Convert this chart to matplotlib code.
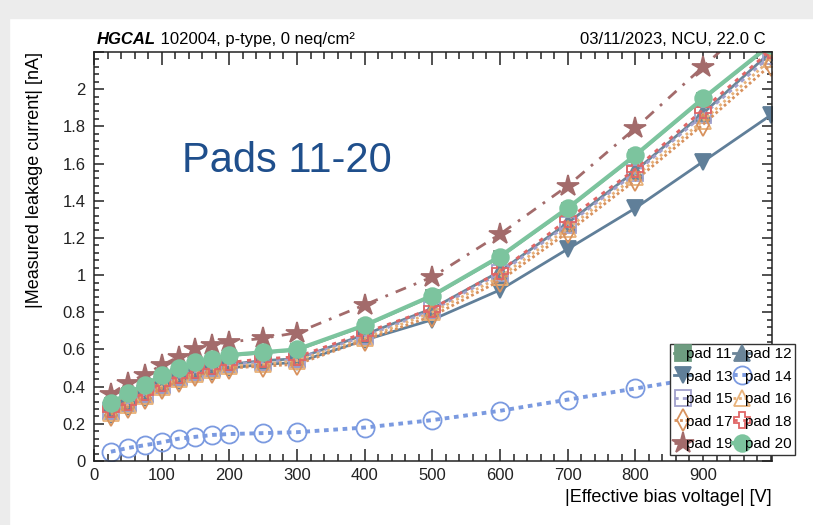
import matplotlib
matplotlib.use('Agg')
import matplotlib.pyplot as plt
from matplotlib.lines import Line2D
from matplotlib.patches import Rectangle
from matplotlib.ticker import MultipleLocator, FuncFormatter

plt.rcParams['font.family'] = ['Liberation Sans', 'DejaVu Sans']

# bias voltage points [V]
voltage = [25, 50, 75, 100, 125, 150, 175, 200, 250, 300, 400, 500, 600, 700, 800, 900, 1000]

# measured leakage current [nA]
pad11 = [0.308, 0.362, 0.408, 0.457, 0.497, 0.527, 0.547, 0.567, 0.582, 0.597, 0.727, 0.887, 1.097, 1.357, 1.642, 1.947, 2.237]
pad12 = [0.27, 0.31, 0.36, 0.41, 0.45, 0.48, 0.50, 0.52, 0.54, 0.55, 0.68, 0.82, 1.02, 1.28, 1.56, 1.87, 2.20]
pad13 = [0.25, 0.29, 0.34, 0.39, 0.43, 0.46, 0.48, 0.50, 0.52, 0.53, 0.65, 0.76, 0.92, 1.14, 1.36, 1.61, 1.86]
pad14 = [0.05, 0.07, 0.085, 0.10, 0.12, 0.13, 0.14, 0.145, 0.15, 0.155, 0.18, 0.22, 0.27, 0.33, 0.39, 0.45, 0.52]
pad15 = [0.27, 0.31, 0.36, 0.41, 0.45, 0.48, 0.50, 0.52, 0.53, 0.55, 0.67, 0.81, 1.01, 1.27, 1.55, 1.86, 2.18]
pad16 = [0.26, 0.30, 0.35, 0.40, 0.44, 0.47, 0.49, 0.51, 0.52, 0.54, 0.66, 0.80, 0.99, 1.25, 1.53, 1.83, 2.16]
pad17 = [0.25, 0.29, 0.34, 0.39, 0.43, 0.46, 0.48, 0.50, 0.51, 0.52, 0.65, 0.78, 0.97, 1.23, 1.51, 1.81, 2.13]
pad18 = [0.28, 0.32, 0.37, 0.42, 0.46, 0.49, 0.51, 0.53, 0.55, 0.56, 0.69, 0.82, 1.02, 1.30, 1.57, 1.89, 2.21]
pad19 = [0.36, 0.42, 0.465, 0.515, 0.56, 0.60, 0.625, 0.64, 0.66, 0.69, 0.84, 0.99, 1.22, 1.48, 1.79, 2.12, 2.45]
pad20 = [0.31, 0.365, 0.41, 0.46, 0.50, 0.53, 0.55, 0.57, 0.585, 0.60, 0.73, 0.89, 1.10, 1.36, 1.645, 1.95, 2.24]

labels = ['pad 11', 'pad 12', 'pad 13', 'pad 14', 'pad 15',
          'pad 16', 'pad 17', 'pad 18', 'pad 19', 'pad 20']
series = [pad11, pad12, pad13, pad14, pad15, pad16, pad17, pad18, pad19, pad20]

# (marker, colour, filled, linestyle, linewidth, markersize)
styles = [
    ('s', '#6e9c80', True, '-', 2.0, 11),
    ('^', '#6b8599', True, '-', 2.0, 11),
    ('v', '#607f99', True, '-', 2.0, 11),
    ('o', '#7b9ae0', False, (0, (1.2, 1.2)), 2.8, 13),
    ('s', '#a0a0cc', False, (0, (1.5, 1.5)), 2.0, 11),
    ('^', '#e8b27a', False, (0, (1, 1)), 2.0, 11),
    ('d', '#d8925e', False, (0, (1, 1)), 2.0, 11),
    ('P', '#e06666', False, (0, (1.5, 2)), 2.0, 12),
    ('*', '#a36b6b', True, (0, (4, 3, 1, 3)), 2.0, 16),
    ('o', '#7cc49e', True, '-', 3.0, 12),
]

fig = plt.figure(figsize=(8.13, 5.25), dpi=100)
fig.patch.set_facecolor('white')
# screenshot shadow along top and left edge
fig.patches.append(Rectangle((0, 1 - 18 / 525), 1, 18 / 525, transform=fig.transFigure,
                             color='#ececec', zorder=0))
fig.patches.append(Rectangle((0, 0), 9 / 813, 1, transform=fig.transFigure,
                             color='#ececec', zorder=0))

ax = fig.add_axes([94 / 813, 1 - 461 / 525, 678 / 813, 409 / 525])

handles = []
for vals, lab, st in zip(series, labels, styles):
    m, c, filled, ls, lw, ms = st
    kw = dict(marker=m, color=c, linestyle=ls, linewidth=lw, markersize=ms,
              markeredgecolor=c, markeredgewidth=1.3,
              markerfacecolor=c if filled else 'none')
    handles.append(Line2D([], [], label=lab, **kw))
    if lab == 'pad 11':
        # pad 11 sits right under pad 20, its squares stay hidden by the circles
        kw['markersize'] = 8
    ax.plot(voltage, vals, **kw)

ax.set_xlim(0, 1002)
ax.set_ylim(0, 2.2)

ax.xaxis.set_major_locator(MultipleLocator(100))
ax.xaxis.set_minor_locator(MultipleLocator(20))
ax.yaxis.set_major_locator(MultipleLocator(0.2))
ax.yaxis.set_minor_locator(MultipleLocator(0.04))
ax.xaxis.set_major_formatter(FuncFormatter(lambda v, p: '' if v > 950 else '%g' % v))
ax.yaxis.set_major_formatter(FuncFormatter(lambda v, p: '' if v > 2.1 else '%g' % round(v, 2)))

ax.tick_params(which='both', direction='in', top=True, right=True, width=1.1,
               labelsize=12, colors='#222222')
ax.tick_params(axis='x', which='major', length=9, pad=5)
ax.tick_params(axis='x', which='minor', length=5)
ax.tick_params(axis='y', which='major', length=7, pad=6)
ax.tick_params(axis='y', which='minor', length=3.5)
for sp in ax.spines.values():
    sp.set_linewidth(1.1)
    sp.set_color('#222222')

ax.set_xlabel('|Effective bias voltage| [V]', fontsize=13, loc='right', labelpad=4)
ax.set_ylabel('|Measured leakage current| [nA]', fontsize=13, loc='top', labelpad=14)

t1 = ax.text(0.004, 1.012, 'HGCAL', transform=ax.transAxes, fontsize=12,
             fontweight='bold', fontstyle='italic', va='bottom', ha='left')
ax.annotate(' 102004, p-type, 0 neq/cm\u00b2', xy=(1, 0), xycoords=t1,
            fontsize=12, va='bottom', ha='left')
ax.text(0.99, 1.012, '03/11/2023, NCU, 22.0 C', transform=ax.transAxes,
        fontsize=12, va='bottom', ha='right')

ax.text(0.13, 0.707, 'Pads 11-20', transform=ax.transAxes, fontsize=30,
        color='#1f4f8c', va='baseline', ha='left')

# ROOT fills rows first, matplotlib fills columns first
order = [0, 2, 4, 6, 8, 1, 3, 5, 7, 9]
leg = ax.legend([handles[i] for i in order], [labels[i] for i in order],
                ncol=2, loc='lower right', bbox_to_anchor=(1.034, 0.015),
                fontsize=11, frameon=True, fancybox=False,
                framealpha=1, edgecolor='#333333', handlelength=1.1,
                handletextpad=-0.35, columnspacing=0.05, labelspacing=0.55,
                borderpad=0.25, borderaxespad=0)
leg.get_frame().set_linewidth(1.0)
leg.set_zorder(10)

fig.savefig('out.png', dpi=100, facecolor=fig.get_facecolor())
